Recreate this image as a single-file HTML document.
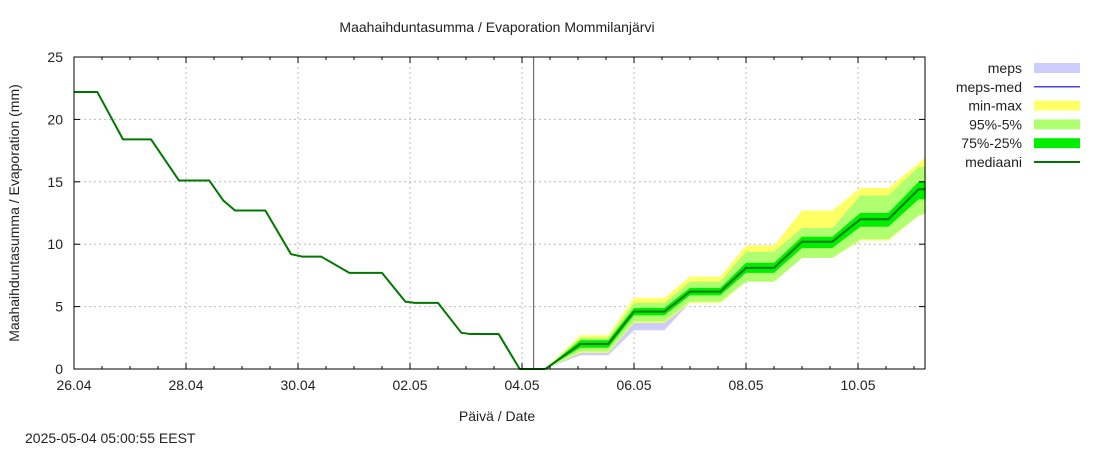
<!DOCTYPE html>
<html><head><meta charset="utf-8"><style>
body{margin:0;background:#fff;}
svg{display:block;font-family:"Liberation Sans",sans-serif;}
</style></head><body>
<svg id="chart" width="1100" height="450" viewBox="0 0 1100 450" xmlns="http://www.w3.org/2000/svg">
<rect width="1100" height="450" fill="#fff"/>
<text x="497" y="32" font-size="14" text-anchor="middle" fill="#222">Maahaihduntasumma / Evaporation   Mommilanjärvi</text>
<text x="497" y="421" font-size="14" text-anchor="middle" fill="#222">Päivä / Date</text>
<text x="25" y="443" font-size="14" fill="#222">2025-05-04 05:00:55 EEST</text>
<text transform="translate(19,213) rotate(-90)" font-size="14" text-anchor="middle" fill="#222">Maahaihduntasumma / Evaporation (mm)</text>
<g id="grid"></g><g id="bands"></g><g id="lines"></g><g id="axes"></g><g id="legend"></g>
</svg>
<script>
// observed (hours since 26.04 00:00)
const obsT=[0,10,21,33,45,58,64,69,82,93,98,106,118,132,142,146,156,166,170,182,191,202];
const obsV=[22.2,22.2,18.4,18.4,15.1,15.1,13.5,12.7,12.7,9.2,9.0,9.0,7.7,7.7,5.4,5.3,5.3,2.9,2.8,2.8,0,0];
// forecast
const fcT=[202,217,229,240,253,264,277,288,300,312,325,337,349,362,365];
const median=[0,2.0,2.0,4.6,4.6,6.2,6.2,8.1,8.1,10.2,10.2,12.0,12.0,14.4,14.4];
const p25=[0,1.7,1.7,4.3,4.3,5.9,5.9,7.7,7.7,9.7,9.7,11.4,11.4,13.6,13.6];
const p75=[0,2.3,2.3,4.9,4.9,6.5,6.5,8.5,8.5,10.6,10.6,12.5,12.5,15.0,15.0];
const p5=[0,1.4,1.4,3.8,3.8,5.4,5.4,7.0,7.0,8.9,8.9,10.4,10.4,12.3,12.5];
const p95=[0,2.5,2.5,5.3,5.3,7.0,7.0,9.4,9.4,11.3,11.3,13.9,13.9,16.2,16.2];
const vmin=[0,1.3,1.3,3.7,3.7,5.3,5.3,7.0,7.0,8.9,8.9,10.3,10.3,12.3,12.4];
const vmax=[0,2.7,2.7,5.7,5.7,7.4,7.4,9.9,9.9,12.7,12.7,14.5,14.5,16.5,17.0];
const mepsLo=[0,1.1,1.1,3.1,3.1,5.3,5.3,7.0,7.0,8.9,8.9,10.3,10.3,12.3,12.4];
const mepsHi=[0,2.6,2.6,5.5,5.5,7.2,7.2,9.6,9.6,12.0,12.0,14.2,14.2,16.3,16.6];
const xTickLabels=["26.04","28.04","30.04","02.05","04.05","06.05","08.05","10.05"];
const yTicks=[0,5,10,15,20,25];
const nowHour=197;

const X0=74,X1=925,Y0=369,Y1=57,PXH=56/24;
const x=t=>X0+t*PXH, y=v=>Y0-(v/25)*(Y0-Y1);
const NS="http://www.w3.org/2000/svg";
function mk(tag,parent,attrs){const e=document.createElementNS(NS,tag);for(const k in attrs)e.setAttribute(k,attrs[k]);parent.appendChild(e);return e;}
const G=id=>document.getElementById(id);

// grid
yTicks.forEach(v=>{if(v>0&&v<25){const l=mk('line',G('grid'),{x1:X0,x2:X1,y1:y(v),y2:y(v),stroke:'#bbb','stroke-dasharray':'2,3','stroke-width':1});

}});
xTickLabels.forEach((s,i)=>{if(i>0){const l=mk('line',G('grid'),{x1:x(i*48),x2:x(i*48),y1:Y1,y2:Y0,stroke:'#bbb','stroke-dasharray':'2,3','stroke-width':1});

}});

function band(lo,hi,fill,name){
  let d='M'+fcT.map((t,i)=>x(t)+','+y(hi[i])).join('L');
  for(let i=fcT.length-1;i>=0;i--)d+='L'+x(fcT[i])+','+y(lo[i]);
  const p=mk('path',G('bands'),{d:d+'Z',fill:fill});
  
  
}
band(mepsLo,mepsHi,'#ccccff','meps-band');
band(vmin,vmax,'#ffff66','min-max-band');
band(p5,p95,'#b0ff70','p95-p5-band');
band(p25,p75,'#00ee00','p75-p25-band');

function line(T,V,stroke,w,name){
  const p=mk('path',G('lines'),{d:'M'+T.map((t,i)=>x(t)+','+y(V[i])).join('L'),fill:'none',stroke:stroke,'stroke-width':w,'stroke-linejoin':'round'});
  
  
}
line(fcT,median,'#4444ee',1,'meps-median-line');
line(obsT,obsV,'#007700',2,'observed-line');
line(fcT,median,'#007700',2,'median-line');

const nl=mk('line',G('lines'),{x1:x(nowHour),x2:x(nowHour),y1:Y1,y2:Y0,stroke:'#555','stroke-width':1});



// axes
const fr=mk('rect',G('axes'),{x:X0,y:Y1,width:X1-X0,height:Y0-Y1,fill:'none',stroke:'#000','stroke-width':1});


yTicks.forEach(v=>{
  mk('line',G('axes'),{x1:X0,x2:X0+6,y1:y(v),y2:y(v),stroke:'#000'});
  mk('line',G('axes'),{x1:X1-6,x2:X1,y1:y(v),y2:y(v),stroke:'#000'});
  const t=mk('text',G('axes'),{x:X0-11,y:y(v)+5,'font-size':14,'text-anchor':'end',fill:'#222'});
  t.textContent=v;
  
  
});
for(let h=0;x(h)<=X1;h+=12){
  const len=(h%48===0)?6:3;
  mk('line',G('axes'),{x1:x(h),x2:x(h),y1:Y0,y2:Y0-len,stroke:'#000'});
  mk('line',G('axes'),{x1:x(h),x2:x(h),y1:Y1,y2:Y1+len,stroke:'#000'});
}
xTickLabels.forEach((s,i)=>{
  const t=mk('text',G('axes'),{x:x(i*48),y:390,'font-size':14,'text-anchor':'middle',fill:'#222'});
  t.textContent=s;
  
  
});

// legend
const leg=[["meps","rect","#ccccff"],["meps-med","line","#4444ee"],["min-max","rect","#ffff66"],["95%-5%","rect","#b0ff70"],["75%-25%","rect","#00ee00"],["mediaani","line","#007700"]];
leg.forEach((e,i)=>{
  const cy=68+i*18.8;
  const g=mk('g',G('legend'),{});
  
  
  const t=mk('text',g,{x:1022,y:cy+5,'font-size':14,'text-anchor':'end',fill:'#222'});
  t.textContent=e[0];
  if(e[1]==='rect')mk('rect',g,{x:1034,y:cy-5,width:46,height:10,fill:e[2]});
  else mk('line',g,{x1:1034,x2:1080,y1:cy,y2:cy,stroke:e[2],'stroke-width':e[0]==='mediaani'?2:1.5});
});
</script>
</body></html>
